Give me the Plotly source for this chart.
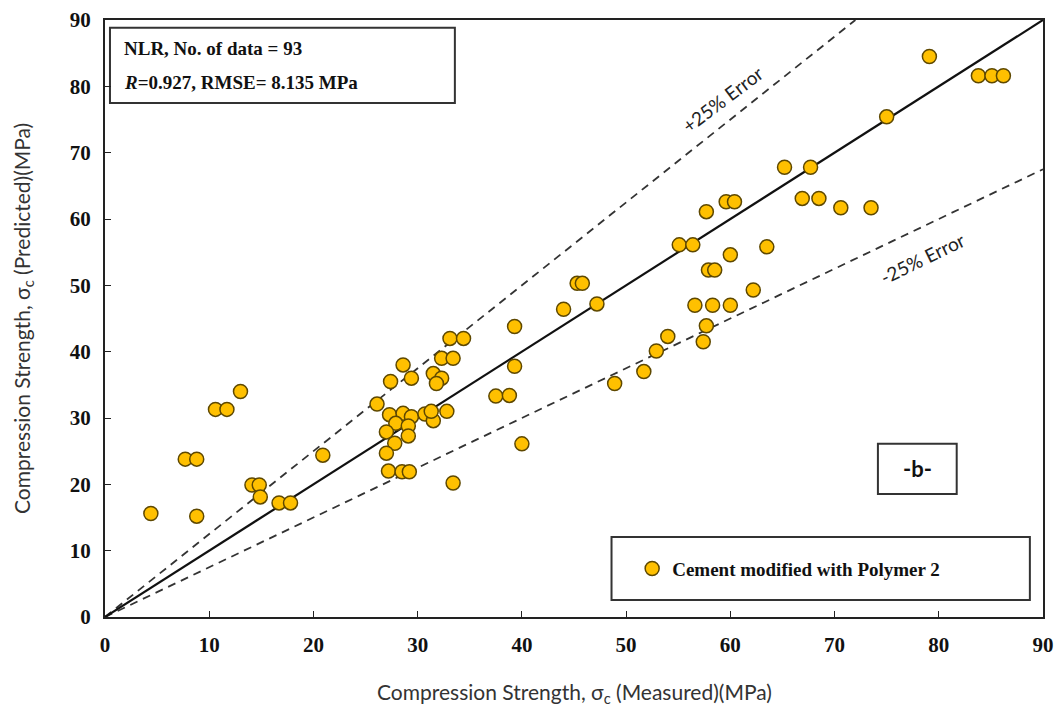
import plotly.graph_objects as go

# Measured (x) and predicted (y) compression strength, MPa
measured = [4.4, 7.7, 8.8, 8.8, 10.6, 11.7, 13.0, 14.1, 14.8, 14.9, 16.7, 17.8, 20.9,
            26.1, 27.4, 28.6, 29.4, 31.5, 32.3, 31.8, 33.1, 34.4, 32.3, 33.4,
            27.3, 28.6, 29.4, 30.7, 31.5, 32.8, 31.3, 27.9, 29.1, 27.0, 29.1, 27.8, 27.0,
            27.2, 28.5, 29.2, 33.4, 37.5, 38.8, 39.3, 39.3, 40.0,
            44.0, 45.3, 45.8, 47.2, 48.9, 51.7, 52.9, 54.0, 55.1, 56.4, 56.6, 57.4, 57.7,
            57.9, 58.5, 58.3, 60.0, 60.0, 62.2, 63.5, 57.7, 59.6, 60.4, 65.2, 67.7, 66.9,
            68.5, 70.6, 73.5, 75.0, 79.1, 83.8, 85.1, 86.2]
predicted = [15.6, 23.8, 23.8, 15.2, 31.3, 31.3, 34.0, 19.9, 19.9, 18.1, 17.2, 17.2, 24.4,
             32.1, 35.5, 38.0, 36.0, 36.7, 36.0, 35.2, 42.0, 42.0, 39.0, 39.0,
             30.5, 30.7, 30.2, 30.6, 29.6, 31.0, 31.0, 29.2, 28.8, 27.9, 27.3, 26.2, 24.7,
             22.0, 21.9, 21.9, 20.2, 33.3, 33.4, 37.8, 43.8, 26.1,
             46.4, 50.3, 50.3, 47.2, 35.2, 37.0, 40.1, 42.3, 56.1, 56.1, 47.0, 41.5, 43.9,
             52.3, 52.3, 47.0, 47.0, 54.6, 49.3, 55.8, 61.1, 62.6, 62.6, 67.8, 67.8, 63.1,
             63.1, 61.7, 61.7, 75.4, 84.5, 81.6, 81.6, 81.6]

# Reference lines: 1:1, +25% and -25%
line_x = [0, 90]
line_y = [0, 90]
plus_x = [0, 72]
plus_y = [0, 90]
minus_x = [0, 90]
minus_y = [0, 67.5]

tick_vals = [0, 10, 20, 30, 40, 50, 60, 70, 80, 90]

serif = "Liberation Serif"
sans = "Lato"

fig = go.Figure()
fig.add_trace(go.Scatter(x=plus_x, y=plus_y, mode="lines", showlegend=False,
                         line=dict(color="#333333", width=1.8, dash="8px,6px")))
fig.add_trace(go.Scatter(x=minus_x, y=minus_y, mode="lines", showlegend=False,
                         line=dict(color="#333333", width=1.8, dash="8px,6px")))
fig.add_trace(go.Scatter(x=line_x, y=line_y, mode="lines", showlegend=False,
                         line=dict(color="#111111", width=2.2)))
fig.add_trace(go.Scatter(x=measured, y=predicted, mode="markers",
                         name="<b>Cement modified with Polymer 2</b>",
                         marker=dict(size=14, color="#FFC000",
                                     line=dict(color="#5e4800", width=1.5))))

axis_common = dict(range=[0, 90], tickvals=tick_vals, ticks="inside", ticklen=6,
                   tickwidth=1, tickcolor="#222", showline=True, linecolor="#222",
                   linewidth=2, mirror=True, showgrid=False, zeroline=False,
                   automargin=False,
                   tickfont=dict(family=serif, size=21, color="#111", weight="bold"))

fig.update_layout(
    width=1055, height=717,
    margin=dict(l=105, r=12, t=20, b=100),
    paper_bgcolor="white", plot_bgcolor="white",
    xaxis=dict(**axis_common),
    yaxis=dict(**axis_common),
    showlegend=True,
    legend=dict(x=0.562, y=0.081, xanchor="left", yanchor="middle",
                bgcolor="rgba(0,0,0,0)",
                font=dict(family=serif, size=19, color="#111")),
)
fig.update_xaxes(ticklabelstandoff=8)
fig.update_yaxes(ticklabelstandoff=8)

shapes = [
    dict(type="rect", xref="paper", yref="paper", x0=0.0053, x1=0.373, y0=0.861, y1=0.987,
         line=dict(color="#333", width=2), fillcolor="white", layer="below"),
    dict(type="rect", xref="paper", yref="paper", x0=0.540, x1=0.986, y0=0.0285, y1=0.134,
         line=dict(color="#333", width=2), fillcolor="white", layer="below"),
    dict(type="rect", xref="paper", yref="paper", x0=0.824, x1=0.908, y0=0.206, y1=0.290,
         line=dict(color="#333", width=2), fillcolor="white", layer="below"),
]
fig.update_layout(shapes=shapes)

annotations = [
    dict(xref="paper", yref="paper", x=0.018, y=0.953, xanchor="left", yanchor="middle",
         text="<b>NLR, No. of data = 93</b>", showarrow=False,
         font=dict(family=serif, size=19, color="#111")),
    dict(xref="paper", yref="paper", x=0.018, y=0.895, xanchor="left", yanchor="middle",
         text="<b><i>R</i>=0.927, RMSE= 8.135 MPa</b>", showarrow=False,
         font=dict(family=serif, size=19, color="#111")),
    dict(xref="paper", yref="paper", x=0.866, y=0.248, xanchor="center", yanchor="middle",
         text="<b>-b-</b>", showarrow=False,
         font=dict(family=sans, size=22, color="#111")),
    dict(xref="x", yref="y", x=59.2, y=78.0, text="+25% Error", showarrow=False,
         textangle=-37, font=dict(family=sans, size=19, color="#222")),
    dict(xref="x", yref="y", x=78.4, y=54.0, text="-25% Error", showarrow=False,
         textangle=-26, font=dict(family=sans, size=19, color="#222")),
    dict(xref="paper", yref="paper", x=0.5, y=-0.128, xanchor="center", yanchor="middle",
         text="Compression Strength, σ<sub>c</sub> (Measured)(MPa)", showarrow=False,
         font=dict(family=sans, size=21, color="#333")),
    dict(xref="paper", yref="paper", x=-0.088, y=0.5, xanchor="center", yanchor="middle",
         text="Compression Strength, σ<sub>c</sub> (Predicted)(MPa)", showarrow=False,
         textangle=-90, font=dict(family=sans, size=21, color="#333")),
]
fig.update_layout(annotations=annotations)

fig.write_html("out.html", config={"displayModeBar": False},
               post_script="document.body.style.margin='0';document.body.style.overflow='hidden';")
